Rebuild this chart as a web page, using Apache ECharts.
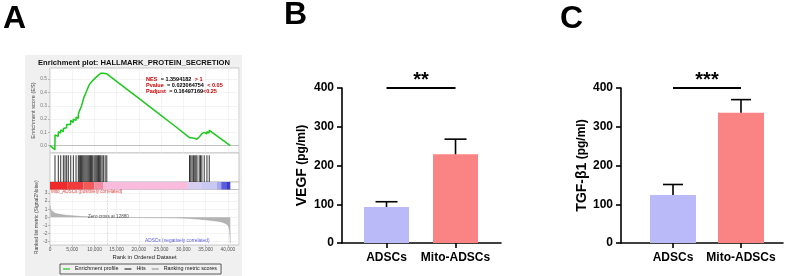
<!DOCTYPE html>
<html><head><meta charset="utf-8">
<script src="https://cdn.jsdelivr.net/npm/echarts@6/dist/echarts.min.js"></script>
<style>html,body{margin:0;padding:0;background:#fff}#c{width:789px;height:276px}</style>
</head><body><div id="c"></div>
<script>
const FONT = '"Liberation Sans", Arial, Helvetica, sans-serif';

// ---------- Panel A (GSEA) ----------
const esRanks  = [0,1100,1126,1850,1870,2390,2410,2980,3000,3360,3380,3730,3750,4100,4120,4640,4660,5230,5250,5835,5855,6350,6370,
  6600,6850,7100,7350,7600,7850,8100,8350,8600,8850,9100,9350,9600,9900,10150,10400,10650,10900,11150,11400,11700,12000,12400,12770,
  16000,20000,24000,28000,31370,31650,31950,32250,32550,32800,33050,33550,33850,34150,34680,35270,35290,35790,35810,38000,40540];
const esValues = [0,-0.03,0.08,0.07,0.105,0.095,0.12,0.105,0.13,0.12,0.145,0.135,0.16,0.15,0.175,0.16,0.19,0.175,0.2,0.19,0.215,0.205,0.235,
  0.26,0.28,0.30,0.33,0.36,0.38,0.40,0.42,0.44,0.46,0.47,0.48,0.49,0.50,0.51,0.515,0.52,0.53,0.535,0.545,0.54,0.545,0.54,0.54,
  0.457,0.355,0.252,0.15,0.06,0.058,0.06,0.052,0.055,0.05,0.048,0.065,0.078,0.09,0.10,0.088,0.105,0.095,0.115,0.062,0];
const hitRanks = [1126,1870,2410,3000,3380,3750,4120,4660,5250,5855,6370,
  6600,6850,7100,7350,7600,7850,8100,8350,8600,8850,9100,9350,9600,9900,10150,10400,10650,10900,11150,11400,11700,12000,12400,12770,
  31370,31650,31950,32250,32550,32800,33050,33550,33850,34150,34680,35290,35810];
const metricRanks  = [0,100,300,600,1000,1500,2200,3000,4000,5500,7000,8600,10500,12880,20000,28000,31000,33000,35000,37000,38500,39500,40000,40300,40450,40540];
const metricValues = [1.45,1.1,0.85,0.68,0.55,0.45,0.37,0.3,0.24,0.17,0.11,0.07,0.03,0,-0.03,-0.06,-0.12,-0.2,-0.3,-0.42,-0.55,-0.75,-0.95,-1.3,-2.0,-3.2];
const zeroCross = 12880;
const colorBarStarts = [0,4000,7500,10000,12000,31000,34000,37500,38500,39800,40300];
const colorBarEnds   = [4000,7500,10000,12000,31000,34000,37500,38500,39800,40300,40540];
const colorBarPalette = ['#ee2a2a','#f03c3c','#f25a5a','#f48aa0','#f9bcdc','#d6cdf0','#c9c9f2','#a8a8ee','#5c5ce0','#3a3ad0','#1a1aa8'];
const esTicks = [0,0.1,0.2,0.3,0.4,0.5];
const metricTicks = [-3,-2,-1,0,1,2,3];

// ---------- Panels B, C ----------
const groups = ['ADSCs','Mito-ADSCs'];
const vegfMean = [93,229];
const vegfErr  = [13.5,39];
const tgfMean  = [124,336];
const tgfErr   = [27,34];
const vegfSig = '**';
const tgfSig  = '***';
const barPalette = ['#babaf8','#f98483'];

const chart = echarts.init(document.getElementById('c'), null, {renderer:'canvas', width:789, height:276});

const lightSplit = {show:true, lineStyle:{color:'#ebebeb', width:0.6}};
const gsGrid = (top, h) => ({left:50, top:top, width:189, height:h, show:true, backgroundColor:'#fff', borderColor:'#a8a8a8', borderWidth:0.6, outerBoundsMode:'none'});

function errRender(capW){
  return function(params, api){
    const x = api.value(0), m = api.value(1), e = api.value(2);
    const p0 = api.coord([x, m]), p1 = api.coord([x, m + e]);
    const st = {stroke:'#000', lineWidth:1.6};
    return {type:'group', children:[
      {type:'line', shape:{x1:p0[0], y1:p0[1], x2:p1[0], y2:p1[1]}, style:st},
      {type:'line', shape:{x1:p1[0]-capW/2, y1:p1[1], x2:p1[0]+capW/2, y2:p1[1]}, style:st}
    ]};
  };
}
function sigRender(label){
  return function(params, api){
    const a = api.coord([api.value(0), api.value(2)]);
    const b = api.coord([api.value(1), api.value(2)]);
    return {type:'group', children:[
      {type:'line', shape:{x1:a[0], y1:a[1], x2:b[0], y2:b[1]}, style:{stroke:'#000', lineWidth:2}},
      {type:'text', x:(a[0]+b[0])/2, y:a[1]-7.5, style:{text:label, fill:'#000', fontSize:20, fontWeight:'bold', fontFamily:FONT, align:'center', verticalAlign:'middle'}}
    ]};
  };
}
function barAxes(gi, xmin, xmax, title, gap){
  return {
    x: {gridIndex:gi, type:'value', min:xmin, max:xmax,
      axisLine:{show:true, onZero:false, lineStyle:{color:'#000', width:1.6}},
      axisTick:{show:true, customValues:[0,1], length:5, lineStyle:{color:'#000', width:1.6}},
      axisLabel:{customValues:[0,1], formatter:v => groups[Math.round(v)], color:'#000', fontWeight:'bold', fontSize:12, fontFamily:FONT, margin:9},
      splitLine:{show:false}},
    y: {gridIndex:gi, type:'value', min:0, max:400, interval:100,
      axisLine:{show:true, onZero:false, lineStyle:{color:'#000', width:1.6}},
      axisTick:{show:true, length:5, lineStyle:{color:'#000', width:1.6}},
      axisLabel:{color:'#000', fontWeight:'bold', fontSize:12, fontFamily:FONT, margin:8},
      splitLine:{show:false},
      name:title, nameLocation:'middle', nameGap:gap, nameRotate:90,
      nameTextStyle:{color:'#000', fontFamily:FONT, rich:{a:{fontSize:14, fontWeight:'bold', color:'#000', fontFamily:FONT}, b:{fontSize:12, fontWeight:'bold', color:'#000', fontFamily:FONT}}}}
  };
}
const bAx = barAxes(4, -0.645, 1.659, '{a|VEGF} {b|(pg/ml)}', 33);
const cAx = barAxes(5, -0.765, 1.618, '{a|TGF-β1} {b|(pg/ml)}', 26);

const rankAxisBase = {type:'value', min:0, max:42500, interval:5000};

const option = {
  animation:false,
  backgroundColor:'#fff',
  textStyle:{fontFamily:FONT},
  grid:[
    gsGrid(68,85), gsGrid(153,29), gsGrid(182,7.5), gsGrid(189.5,55.5),
    {left:342, top:88, width:159, height:155, outerBoundsMode:'none'},
    {left:621, top:88, width:162, height:155, outerBoundsMode:'none'}
  ],
  xAxis:[
    Object.assign({gridIndex:0}, rankAxisBase, {axisLine:{show:false, onZero:false}, axisTick:{show:false}, axisLabel:{show:false}, splitLine:lightSplit}),
    Object.assign({gridIndex:1}, rankAxisBase, {axisLine:{show:false, onZero:false}, axisTick:{show:false}, axisLabel:{show:false}, splitLine:{show:false}}),
    Object.assign({gridIndex:2}, rankAxisBase, {axisLine:{show:false, onZero:false}, axisTick:{show:false}, axisLabel:{show:false}, splitLine:{show:false}}),
    Object.assign({gridIndex:3}, rankAxisBase, {axisLine:{show:false, onZero:false}, axisTick:{show:true, length:2, lineStyle:{color:'#999', width:0.6}},
      axisLabel:{fontSize:4.8, color:'#555', margin:2.5, showMaxLabel:false, fontFamily:FONT}, splitLine:lightSplit,
      name:'Rank in Ordered Dataset', nameLocation:'middle', nameGap:9, nameTextStyle:{fontSize:5.8, color:'#222', fontFamily:FONT}}),
    bAx.x, cAx.x
  ],
  yAxis:[
    {gridIndex:0, type:'value', min:-0.055, max:0.584, axisLine:{show:false, onZero:false},
      axisTick:{show:true, customValues:esTicks, length:2, lineStyle:{color:'#999', width:0.6}},
      axisLabel:{customValues:esTicks, formatter:v => v.toFixed(1), fontSize:4.8, color:'#777', margin:3, fontFamily:FONT},
      splitLine:lightSplit,
      name:'Enrichment score (ES)', nameLocation:'middle', nameGap:13, nameTextStyle:{fontSize:5.6, color:'#444', fontFamily:FONT}},
    {gridIndex:1, type:'value', min:0, max:1.08, show:false},
    {gridIndex:2, type:'value', min:0, max:1, show:false},
    {gridIndex:3, type:'value', min:-3.4, max:3.43, axisLine:{show:false, onZero:false},
      axisTick:{show:true, customValues:metricTicks, length:2, lineStyle:{color:'#999', width:0.6}},
      axisLabel:{customValues:metricTicks, fontSize:4.8, color:'#666', margin:2.5, fontFamily:FONT},
      splitLine:lightSplit,
      name:'Ranked list metric (Signal2Noise)', nameLocation:'middle', nameGap:8, nameTextStyle:{fontSize:5, color:'#444', fontFamily:FONT}},
    bAx.y, cAx.y
  ],
  legend:{
    data:['Enrichment profile','Hits','Ranking metric scores'],
    left:60, top:264, orient:'horizontal', icon:'rect', itemWidth:7, itemHeight:1.2, itemGap:6,
    padding:[2.5,4,2.5,3], borderColor:'#333', borderWidth:0.8, backgroundColor:'transparent',
    textStyle:{fontSize:5.4, color:'#111', fontFamily:FONT}, selectedMode:false
  },
  series:[
    {name:'Enrichment profile', type:'line', xAxisIndex:0, yAxisIndex:0, showSymbol:false, symbol:'none',
      data:esRanks.map((r,i)=>[r, esValues[i]]),
      lineStyle:{color:'#1ec81e', width:1.5}, itemStyle:{color:'#1ec81e'}, z:5,
      markLine:{silent:true, symbol:'none', label:{show:false}, lineStyle:{color:'#a0a0a0', width:0.6, type:'solid'}, data:[{yAxis:0}]}},
    {name:'Hits', type:'bar', xAxisIndex:1, yAxisIndex:1, barWidth:0.9, barGap:'-100%',
      data:hitRanks.map(r=>[r,1]), itemStyle:{color:'#111', opacity:0.85}},
    {name:'colorbar', type:'custom', xAxisIndex:2, yAxisIndex:2,
      data:colorBarStarts.map((s,i)=>[s, colorBarEnds[i]]),
      encode:{x:[0,1]},
      renderItem:(p, api)=>{
        const a = api.coord([api.value(0), 1]), b = api.coord([api.value(1), 0]);
        return {type:'rect', shape:{x:a[0], y:a[1], width:b[0]-a[0], height:b[1]-a[1]}, style:{fill:colorBarPalette[p.dataIndex]}};
      }},
    {name:'Ranking metric scores', type:'line', xAxisIndex:3, yAxisIndex:3, showSymbol:false, symbol:'none',
      data:metricRanks.map((r,i)=>[r, metricValues[i]]),
      lineStyle:{color:'#9a9a9a', width:0.5}, itemStyle:{color:'#9a9a9a'}, areaStyle:{color:'#b4b4b4', opacity:1},
      markLine:{silent:true, symbol:'none', label:{show:false}, lineStyle:{color:'#c8c8c8', width:0.6, type:'dashed'}, data:[{xAxis:zeroCross}]}},

    {name:'VEGF', type:'bar', xAxisIndex:4, yAxisIndex:4, barWidth:45,
      data:vegfMean.map((v,i)=>({value:[i,v], itemStyle:{color:barPalette[i]}}))},
    {name:'VEGF err', type:'custom', xAxisIndex:4, yAxisIndex:4, z:4,
      data:vegfMean.map((v,i)=>[i, v, vegfErr[i]]), renderItem:errRender(22)},
    {name:'VEGF sig', type:'custom', xAxisIndex:4, yAxisIndex:4, z:4,
      data:[[0,1,400]], renderItem:sigRender(vegfSig)},

    {name:'TGF', type:'bar', xAxisIndex:5, yAxisIndex:5, barWidth:46,
      data:tgfMean.map((v,i)=>({value:[i,v], itemStyle:{color:barPalette[i]}}))},
    {name:'TGF err', type:'custom', xAxisIndex:5, yAxisIndex:5, z:4,
      data:tgfMean.map((v,i)=>[i, v, tgfErr[i]]), renderItem:errRender(20)},
    {name:'TGF sig', type:'custom', xAxisIndex:5, yAxisIndex:5, z:4,
      data:[[0,1,400]], renderItem:sigRender(tgfSig)}
  ],
  graphic:[
    {type:'rect', z:-10, silent:true, shape:{x:25, y:55, width:217, height:221}, style:{fill:'#f0f0f0'}},
    {type:'text', z:100, x:3, y:19, style:{text:'A', fontSize:32, fontWeight:'bold', fontFamily:FONT, fill:'#000', align:'left', verticalAlign:'middle'}},
    {type:'text', z:100, x:284, y:15, style:{text:'B', fontSize:32, fontWeight:'bold', fontFamily:FONT, fill:'#000', align:'left', verticalAlign:'middle'}},
    {type:'text', z:100, x:560, y:19, style:{text:'C', fontSize:32, fontWeight:'bold', fontFamily:FONT, fill:'#000', align:'left', verticalAlign:'middle'}},
    {type:'text', z:100, x:134, y:63, style:{text:'Enrichment plot: HALLMARK_PROTEIN_SECRETION', fontSize:7.6, fontWeight:'bold', fontFamily:FONT, fill:'#111', align:'center', verticalAlign:'middle'}},
    {type:'text', z:100, x:146, y:79, style:{text:'{r|NES} {k|= 1.3594182} {r|> 1}', align:'left', verticalAlign:'middle',
      rich:{r:{fill:'#cc0000', fontSize:5.5, fontWeight:'bold', fontFamily:FONT}, k:{fill:'#000', fontSize:5.5, fontWeight:'bold', fontFamily:FONT}}}},
    {type:'text', z:100, x:146, y:85.3, style:{text:'{r|Pvalue} {k|= 0.023064754} {r|< 0.05}', align:'left', verticalAlign:'middle',
      rich:{r:{fill:'#cc0000', fontSize:5.5, fontWeight:'bold', fontFamily:FONT}, k:{fill:'#000', fontSize:5.5, fontWeight:'bold', fontFamily:FONT}}}},
    {type:'text', z:100, x:146, y:91.7, style:{text:'{r|Padjust} {k|= 0.16497169}{r|<0.25}', align:'left', verticalAlign:'middle',
      rich:{r:{fill:'#cc0000', fontSize:5.5, fontWeight:'bold', fontFamily:FONT}, k:{fill:'#000', fontSize:5.5, fontWeight:'bold', fontFamily:FONT}}}},
    {type:'text', z:100, x:51, y:192, style:{text:'Mito_ADSCs (positively correlated)', fontSize:4.6, fontFamily:FONT, fill:'#e04848', align:'left', verticalAlign:'middle'}},
    {type:'text', z:100, x:88, y:216.7, style:{text:'Zero cross at 12880', fontSize:4.6, fontFamily:FONT, fill:'#555', align:'left', verticalAlign:'middle'}},
    {type:'text', z:100, x:145, y:241, style:{text:'ADSCs (negatively correlated)', fontSize:4.8, fontFamily:FONT, fill:'#5a5ae0', align:'left', verticalAlign:'middle'}}
  ]
};
chart.setOption(option);
</script>
</body></html>
